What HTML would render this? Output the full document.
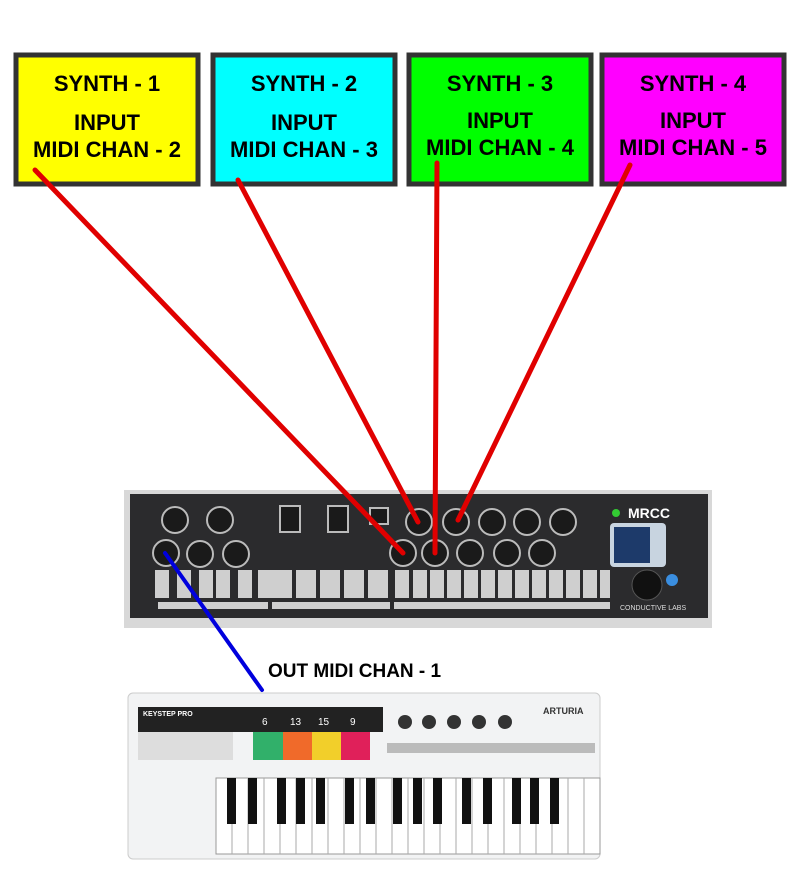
<!DOCTYPE html>
<html><head><meta charset="utf-8"><style>
body{margin:0;background:#fff;}
svg{display:block;font-family:"Liberation Sans",Arial,sans-serif;}
</style></head><body>
<svg width="800" height="882" viewBox="0 0 800 882">
<!-- synth boxes -->
<g font-weight="bold" font-size="22" text-anchor="middle" fill="#000">
<rect x="16" y="55" width="182" height="129" fill="#ffff00" stroke="#333" stroke-width="5"/>
<text x="107" y="91">SYNTH - 1</text><text x="107" y="130">INPUT</text><text x="107" y="157">MIDI CHAN - 2</text>
<rect x="213" y="55" width="182" height="129" fill="#00ffff" stroke="#333" stroke-width="5"/>
<text x="304" y="91">SYNTH - 2</text><text x="304" y="130">INPUT</text><text x="304" y="157">MIDI CHAN - 3</text>
<rect x="409" y="55" width="182" height="129" fill="#00ff00" stroke="#333" stroke-width="5"/>
<text x="500" y="91">SYNTH - 3</text><text x="500" y="128">INPUT</text><text x="500" y="155">MIDI CHAN - 4</text>
<rect x="602" y="55" width="182" height="129" fill="#ff00ff" stroke="#333" stroke-width="5"/>
<text x="693" y="91">SYNTH - 4</text><text x="693" y="128">INPUT</text><text x="693" y="155">MIDI CHAN - 5</text>
</g>
<!-- MRCC -->
<rect x="124" y="490" width="588" height="138" fill="#d8d8d8"/>
<rect x="130" y="494" width="578" height="124" fill="#2b2b2d"/>
<g fill="#1a1a1a" stroke="#bbb" stroke-width="2">
<circle cx="175" cy="520" r="13"/><circle cx="220" cy="520" r="13"/>
<circle cx="166" cy="553" r="13"/><circle cx="200" cy="554" r="13"/><circle cx="236" cy="554" r="13"/>
<circle cx="419" cy="522" r="13"/><circle cx="456" cy="522" r="13"/><circle cx="492" cy="522" r="13"/><circle cx="527" cy="522" r="13"/><circle cx="563" cy="522" r="13"/>
<circle cx="403" cy="553" r="13"/><circle cx="435" cy="553" r="13"/><circle cx="470" cy="553" r="13"/><circle cx="507" cy="553" r="13"/><circle cx="542" cy="553" r="13"/>
<rect x="280" y="506" width="20" height="26"/><rect x="328" y="506" width="20" height="26"/><rect x="370" y="508" width="18" height="16"/>
</g>
<g fill="#cfcfcf">
<rect x="155" y="570" width="14" height="28"/><rect x="177" y="570" width="14" height="28"/><rect x="199" y="570" width="14" height="28"/><rect x="216" y="570" width="14" height="28"/><rect x="238" y="570" width="14" height="28"/><rect x="258" y="570" width="14" height="28"/>
<rect x="272" y="570" width="20" height="28"/><rect x="296" y="570" width="20" height="28"/><rect x="320" y="570" width="20" height="28"/><rect x="344" y="570" width="20" height="28"/><rect x="368" y="570" width="20" height="28"/>
<rect x="395" y="570" width="14" height="28"/><rect x="413" y="570" width="14" height="28"/><rect x="430" y="570" width="14" height="28"/><rect x="447" y="570" width="14" height="28"/><rect x="464" y="570" width="14" height="28"/><rect x="481" y="570" width="14" height="28"/><rect x="498" y="570" width="14" height="28"/><rect x="515" y="570" width="14" height="28"/><rect x="532" y="570" width="14" height="28"/><rect x="549" y="570" width="14" height="28"/><rect x="566" y="570" width="14" height="28"/><rect x="583" y="570" width="14" height="28"/><rect x="600" y="570" width="10" height="28"/>
<rect x="158" y="602" width="110" height="7"/><rect x="272" y="602" width="118" height="7"/><rect x="394" y="602" width="216" height="7"/>
</g>
<rect x="610" y="523" width="56" height="44" rx="4" fill="#c8d4e0"/>
<rect x="614" y="527" width="36" height="36" fill="#1d3a6a"/>
<circle cx="647" cy="585" r="15" fill="#111" stroke="#555"/>
<circle cx="672" cy="580" r="6" fill="#3a8ee0"/>
<circle cx="616" cy="513" r="4" fill="#3c3"/>
<text x="628" y="518" font-size="14" font-weight="bold" fill="#fff">MRCC</text>
<text x="620" y="610" font-size="7" fill="#ddd">CONDUCTIVE LABS</text>
<!-- Keystep -->
<rect x="128" y="693" width="472" height="166" rx="5" fill="#f2f3f4" stroke="#ccc"/>
<rect x="138" y="707" width="245" height="25" fill="#222"/>
<rect x="138" y="732" width="95" height="28" fill="#ddd"/>
<rect x="253" y="732" width="45" height="28" fill="#31b06a"/>
<rect x="283" y="732" width="29" height="28" fill="#f06a2a"/>
<rect x="312" y="732" width="29" height="28" fill="#f2cf2a"/>
<rect x="341" y="732" width="29" height="28" fill="#e0205a"/>
<g fill="#fff" font-size="10"><text x="262" y="725">6</text><text x="290" y="725">13</text><text x="318" y="725">15</text><text x="350" y="725">9</text></g>
<text x="143" y="716" font-size="7" font-weight="bold" fill="#fff">KEYSTEP PRO</text>
<text x="543" y="714" font-size="9" font-weight="bold" fill="#333">ARTURIA</text>
<g fill="#333"><circle cx="405" cy="722" r="7"/><circle cx="429" cy="722" r="7"/><circle cx="454" cy="722" r="7"/><circle cx="479" cy="722" r="7"/><circle cx="505" cy="722" r="7"/></g>
<rect x="387" y="743" width="208" height="10" fill="#bbb"/>
<rect x="216" y="778" width="384" height="76" fill="#fff" stroke="#999"/>
<g stroke="#aaa" stroke-width="1">
<path d="M232 778v76M248 778v76M264 778v76M280 778v76M296 778v76M312 778v76M328 778v76M344 778v76M360 778v76M376 778v76M392 778v76M408 778v76M424 778v76M440 778v76M456 778v76M472 778v76M488 778v76M504 778v76M520 778v76M536 778v76M552 778v76M568 778v76M584 778v76"/>
</g>
<g fill="#111">
<rect x="227" y="778" width="9" height="46"/><rect x="248" y="778" width="9" height="46"/><rect x="277" y="778" width="9" height="46"/><rect x="296" y="778" width="9" height="46"/><rect x="316" y="778" width="9" height="46"/><rect x="345" y="778" width="9" height="46"/><rect x="366" y="778" width="9" height="46"/><rect x="393" y="778" width="9" height="46"/><rect x="413" y="778" width="9" height="46"/><rect x="433" y="778" width="9" height="46"/><rect x="462" y="778" width="9" height="46"/><rect x="483" y="778" width="9" height="46"/><rect x="512" y="778" width="9" height="46"/><rect x="530" y="778" width="9" height="46"/><rect x="550" y="778" width="9" height="46"/>
</g>
<text x="268" y="677" font-size="19" font-weight="bold" fill="#000">OUT MIDI CHAN - 1</text>
<!-- connectors -->
<g stroke="#e00000" stroke-width="5" stroke-linecap="round">
<line x1="35" y1="170" x2="403" y2="553"/>
<line x1="238" y1="180" x2="418" y2="522"/>
<line x1="437" y1="163" x2="435" y2="553"/>
<line x1="630" y1="165" x2="458" y2="520"/>
</g>
<line x1="165" y1="553" x2="262" y2="690" stroke="#0000dd" stroke-width="4" stroke-linecap="round"/>
</svg>
</body></html>
